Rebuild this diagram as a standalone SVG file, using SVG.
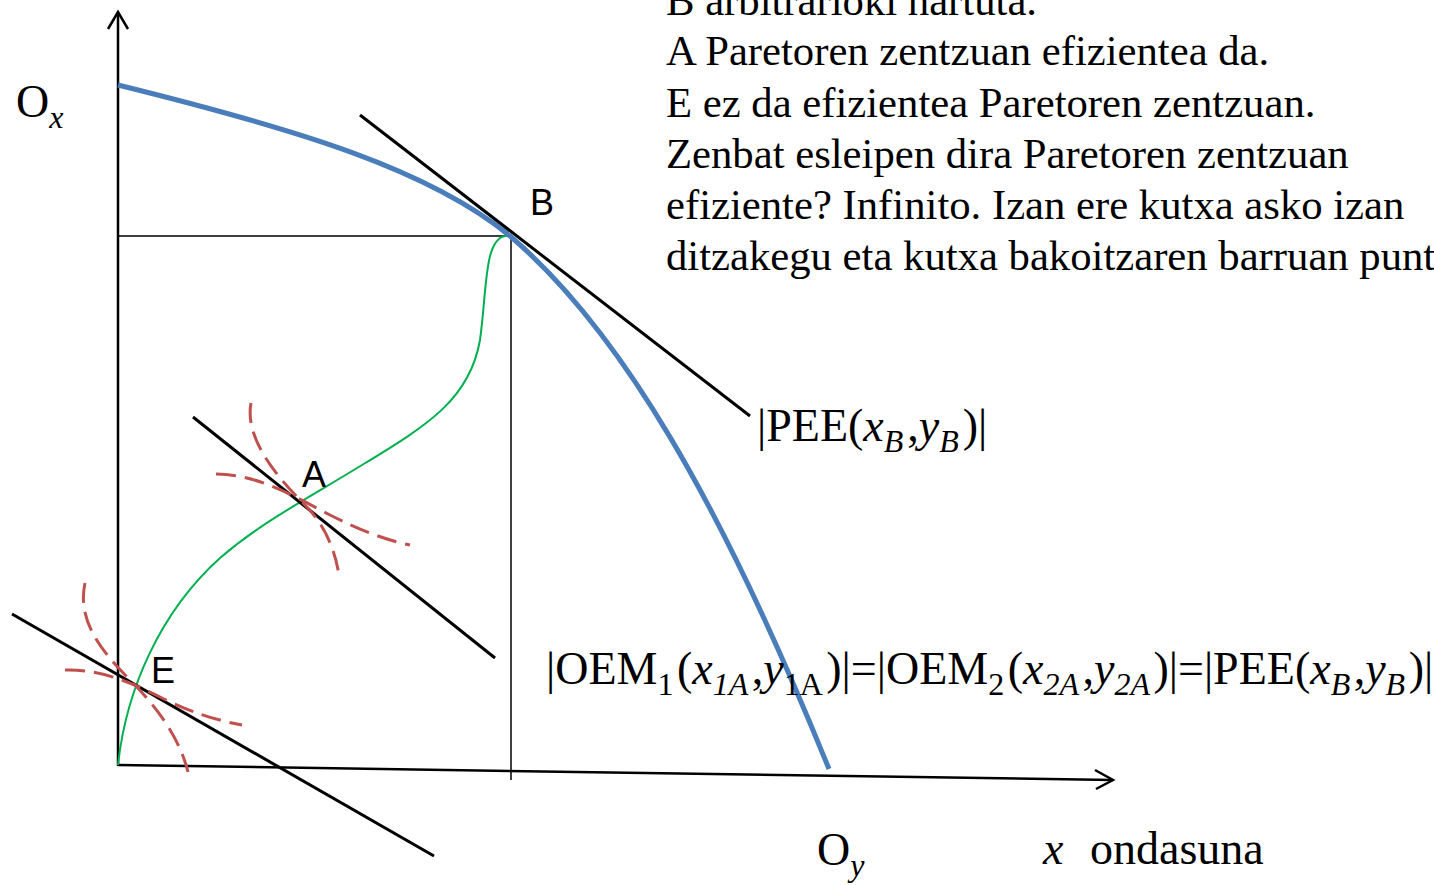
<svg xmlns="http://www.w3.org/2000/svg" width="1434" height="885" viewBox="0 0 1434 885">
<style>
.ax{fill:none;stroke:#000;stroke-width:2.5}
.thin{fill:none;stroke:#000;stroke-width:1.5}
.tan{fill:none;stroke:#000;stroke-width:3}
.ind{fill:none;stroke:#C0504D;stroke-width:3;stroke-dasharray:20 9}
.t{font-family:"Liberation Serif","Times New Roman",serif;font-size:46px;fill:#000}
.n{font-size:42.7px}
.s{font-family:"Liberation Sans","Open Sans",sans-serif;font-size:36px;fill:#000}
.i{font-style:italic}
.sub{font-size:32px}
</style>
<rect width="1434" height="885" fill="#fff"/>
<g id="axes">
<line class="ax" x1="118" y1="766" x2="118" y2="12"/>
<polyline class="ax" points="108,29 118,12 128,29"/>
<line class="ax" x1="118" y1="765" x2="1113" y2="780"/>
<polyline class="ax" points="1095,770 1113,780 1096,789"/>
</g>
<g id="box">
<line class="thin" x1="118" y1="236" x2="511" y2="236"/>
<line class="thin" x1="511" y1="236" x2="511" y2="780"/>
</g>
<g id="connectors">
<path id="contract" d="M118,765 C126,690 160,612 220,558 C262,522 305,500 362,465 C430,424 470,398 480,340 C487,290 484,240 505,236 L511,236" fill="none" stroke="#00B050" stroke-width="2"/>
<path id="frontier" d="M118,85 C300,130 430,170 510,236 C620,330 720,500 829,769" fill="none" stroke="#4A7EBB" stroke-width="5"/>
<line id="tanB" class="tan" x1="360" y1="115" x2="750" y2="416"/>
<line id="tanA" class="tan" x1="193" y1="417" x2="495" y2="658"/>
<line id="tanE" class="tan" x1="12" y1="614" x2="434" y2="856"/>
<path class="ind" d="M251,403 C244,440 280,480 305,505 C325,525 335,550 339,575"/>
<path class="ind" d="M216,474 C260,474 300,500 330,515 C360,530 385,540 410,545"/>
<path class="ind" d="M85,583 C77,620 100,650 130,680 C160,710 180,740 188,772"/>
<path class="ind" d="M65,670 C100,669 130,682 160,697 C190,712 215,720 242,725"/>
</g>
<g id="labels">
<text class="s" x="530" y="215">B</text>
<text class="s" x="302" y="487">A</text>
<text class="s" x="151" y="683">E</text>
<text class="t" x="16" y="117">O<tspan class="i sub" dy="11">x</tspan></text>
<text class="t" x="817" y="865">O<tspan class="i sub" dy="11">y</tspan></text>
<text class="t i" x="1043" y="864">x</text>
<text class="t" x="1090" y="864">ondasuna</text>
<text class="t" x="757" y="441">|PEE(<tspan class="i">x</tspan><tspan class="i sub" dy="11">B</tspan><tspan dy="-11" dx="4">,</tspan><tspan class="i">y</tspan><tspan class="i sub" dy="11">B</tspan><tspan dy="-11" dx="4">)|</tspan></text>
<text class="t" x="546" y="684">|OEM<tspan class="sub" dy="11">1</tspan><tspan dy="-11" dx="3.5">(</tspan><tspan class="i">x</tspan><tspan class="i sub" dy="11">1A</tspan><tspan dy="-11" dx="3.5">,</tspan><tspan class="i">y</tspan><tspan class="sub" dy="11">1A</tspan><tspan dy="-11" dx="3.5">)|=|OEM</tspan><tspan class="sub" dy="11">2</tspan><tspan dy="-11" dx="3.5">(</tspan><tspan class="i">x</tspan><tspan class="i sub" dy="11">2A</tspan><tspan dy="-11" dx="3.5">,</tspan><tspan class="i">y</tspan><tspan class="i sub" dy="11">2A</tspan><tspan dy="-11" dx="3.5">)|=|PEE(</tspan><tspan class="i">x</tspan><tspan class="i sub" dy="11">B</tspan><tspan dy="-11" dx="3.5">,</tspan><tspan class="i">y</tspan><tspan class="i sub" dy="11">B</tspan><tspan dy="-11" dx="3.5">)|</tspan></text>
</g>
<g id="notes">
<text class="t n" x="666" y="15">B arbitrarioki hartuta.</text>
<text class="t n" x="666" y="65">A Paretoren zentzuan efizientea da.</text>
<text class="t n" x="666" y="117">E ez da efizientea Paretoren zentzuan.</text>
<text class="t n" x="666" y="168">Zenbat esleipen dira Paretoren zentzuan</text>
<text class="t n" x="666" y="219">efiziente? Infinito. Izan ere kutxa asko izan</text>
<text class="t n" x="666" y="270">ditzakegu eta kutxa bakoitzaren barruan punt</text>
</g>
</svg>
